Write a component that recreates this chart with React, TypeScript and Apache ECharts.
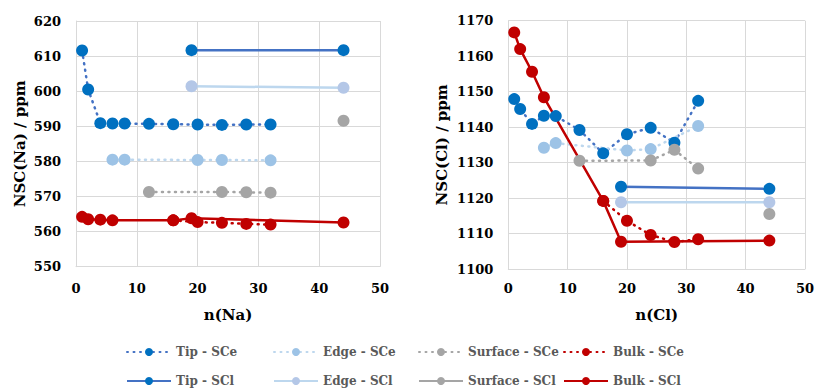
import React, { useEffect, useRef } from "react";
import * as echarts from "echarts";

// Cluster sizes n for each site / scheme
const nTipSCe = [1, 2, 4, 6, 8, 12, 16, 20, 24, 28, 32];
const nEdgeSCe = [6, 8, 20, 24, 32];
const nSurfaceSCe = [12, 24, 28, 32];
const nBulkSCe = [16, 20, 24, 28, 32];
const nTipSCl = [19, 44];
const nEdgeSCl = [19, 44];
const nSurfaceSCl = [44];
const nBulkSCl = [1, 2, 4, 6, 16, 19, 44];

// NSC(Na) / ppm
const naTipSCe = [611.6, 600.5, 590.9, 590.8, 590.8, 590.7, 590.6, 590.5, 590.4, 590.5, 590.5];
const naEdgeSCe = [580.5, 580.5, 580.4, 580.4, 580.3];
const naSurfaceSCe = [571.3, 571.3, 571.2, 571.1];
const naBulkSCe = [563.2, 562.7, 562.5, 562.2, 562.0];
const naTipSCl = [611.7, 611.7];
const naEdgeSCl = [601.4, 601.0];
const naSurfaceSCl = [591.6];
const naBulkSCl = [564.2, 563.5, 563.4, 563.2, 563.2, 563.8, 562.6];

// NSC(Cl) / ppm
const clTipSCe = [1147.9, 1145.1, 1140.9, 1143.2, 1143.1, 1139.2, 1132.6, 1138.0, 1139.8, 1135.6, 1147.4];
const clEdgeSCe = [1134.2, 1135.5, 1133.4, 1133.8, 1140.3];
const clSurfaceSCe = [1130.5, 1130.6, 1133.6, 1128.3];
const clBulkSCe = [1119.2, 1113.6, 1109.6, 1107.6, 1108.4];
const clTipSCl = [1123.2, 1122.6];
const clEdgeSCl = [1118.8, 1118.8];
const clSurfaceSCl = [1115.5];
const clBulkSCl = [1166.7, 1162.0, 1155.6, 1148.4, 1119.2, 1107.7, 1108.0];

const xTicks = { min: 0, max: 50, interval: 10 };
const naTicks = { min: 550, max: 620, interval: 10 };
const clTicks = { min: 1100, max: 1170, interval: 10 };

const FONT = "DejaVu Serif";
const GRID = "#D9D9D9";

type Style = { mark: string; line: string; dotted: boolean };

const STYLES: Record<string, Style> = {
  "Tip - SCe": { mark: "#0070C0", line: "#4472C4", dotted: true },
  "Edge - SCe": { mark: "#9DC3E6", line: "#BDD7EE", dotted: true },
  "Surface - SCe": { mark: "#A5A5A5", line: "#A5A5A5", dotted: true },
  "Bulk - SCe": { mark: "#C00000", line: "#C00000", dotted: true },
  "Tip - SCl": { mark: "#0070C0", line: "#4472C4", dotted: false },
  "Edge - SCl": { mark: "#B4C7E7", line: "#BDD7EE", dotted: false },
  "Surface - SCl": { mark: "#A5A5A5", line: "#A5A5A5", dotted: false },
  "Bulk - SCl": { mark: "#C00000", line: "#C00000", dotted: false },
};

const ORDER = [
  "Tip - SCe", "Edge - SCe", "Surface - SCe", "Bulk - SCe",
  "Tip - SCl", "Edge - SCl", "Surface - SCl", "Bulk - SCl",
];

const naSets: [number[], number[]][] = [
  [nTipSCe, naTipSCe], [nEdgeSCe, naEdgeSCe], [nSurfaceSCe, naSurfaceSCe], [nBulkSCe, naBulkSCe],
  [nTipSCl, naTipSCl], [nEdgeSCl, naEdgeSCl], [nSurfaceSCl, naSurfaceSCl], [nBulkSCl, naBulkSCl],
];
const clSets: [number[], number[]][] = [
  [nTipSCe, clTipSCe], [nEdgeSCe, clEdgeSCe], [nSurfaceSCe, clSurfaceSCe], [nBulkSCe, clBulkSCe],
  [nTipSCl, clTipSCl], [nEdgeSCl, clEdgeSCl], [nSurfaceSCl, clSurfaceSCl], [nBulkSCl, clBulkSCl],
];

function makeSeries(name: string, xs: number[], ys: number[], axis: number) {
  const s = STYLES[name];
  return {
    type: "line",
    name,
    xAxisIndex: axis,
    yAxisIndex: axis,
    data: xs.map((x, i) => [x, ys[i]]),
    symbol: "circle",
    symbolSize: 12,
    showSymbol: true,
    itemStyle: { color: s.mark },
    lineStyle: s.dotted
      ? { color: s.line, width: 2.5, type: [1, 5.5], cap: "round" }
      : { color: s.line, width: 2.5, type: "solid" },
    emphasis: { disabled: true },
  };
}

const tickLabel = {
  fontFamily: FONT,
  fontWeight: "bold",
  fontSize: 13,
  color: "#000",
  formatter: (v: number) => String(v),
};
const titleText = { fontFamily: FONT, fontWeight: "bold", fontSize: 15, color: "#000" };

function xAxis(gridIndex: number, name: string, gap: number, margin: number) {
  return {
    type: "value",
    gridIndex,
    ...xTicks,
    name,
    nameLocation: "middle",
    nameGap: gap,
    nameTextStyle: titleText,
    axisLine: { show: true, lineStyle: { color: GRID, width: 1 } },
    axisTick: { show: false },
    axisLabel: { ...tickLabel, margin },
    splitLine: { show: true, lineStyle: { color: GRID, width: 1 } },
  };
}

function yAxis(gridIndex: number, name: string, ticks: typeof naTicks, gap: number) {
  return {
    type: "value",
    gridIndex,
    ...ticks,
    name,
    nameLocation: "middle",
    nameGap: gap,
    nameTextStyle: titleText,
    axisLine: { show: true, lineStyle: { color: GRID, width: 1 } },
    axisTick: { show: false },
    axisLabel: { ...tickLabel, margin: 15 },
    splitLine: { show: true, lineStyle: { color: GRID, width: 1 } },
  };
}

const legendCols = [126, 273, 418, 563];
const legendRows = [346, 375];

export default function App() {
  const ref = useRef<HTMLDivElement>(null);

  useEffect(() => {
    document.body.style.margin = "0";
    if (!ref.current) return;
    const chart = echarts.init(ref.current, undefined, { renderer: "svg" });

    const series = [
      ...ORDER.map((name, i) => makeSeries(name, naSets[i][0], naSets[i][1], 0)),
      ...ORDER.map((name, i) => makeSeries(name, clSets[i][0], clSets[i][1], 1)),
    ];

    const legend = ORDER.map((name, i) => ({
      data: [name],
      left: legendCols[i % 4],
      top: legendRows[Math.floor(i / 4)],
      padding: 0,
      itemWidth: 44,
      itemHeight: 10,
      selectedMode: false,
      textStyle: { fontFamily: FONT, fontWeight: "bold", fontSize: 12, color: "#595959" },
    }));

    chart.setOption({
      animation: false,
      backgroundColor: "#fff",
      grid: [
        { left: 76, top: 21, width: 304, height: 245.7 },
        { left: 508.3, top: 20.7, width: 299, height: 248.3 },
      ],
      xAxis: [xAxis(0, "n(Na)", 41, 15), xAxis(1, "n(Cl)", 38.5, 13)],
      yAxis: [yAxis(0, "NSC(Na) / ppm", naTicks, 48.5), yAxis(1, "NSC(Cl) / ppm", clTicks, 59)],
      legend,
      series,
    });

    return () => chart.dispose();
  }, []);

  return <div ref={ref} style={{ width: 817, height: 390 }} />;
}
